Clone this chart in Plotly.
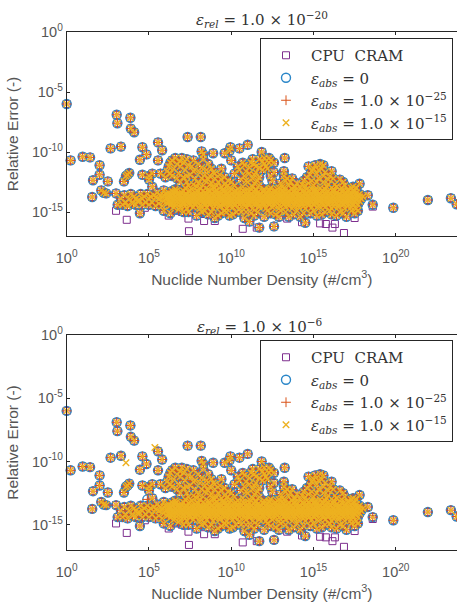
import plotly.graph_objects as go

# Values are log10(number density), log10(relative error).
OUTLIERS = [(0,-6.0),(.24,-10.7),(.97,-10.4),(1.42,-10.45),(2.0,-11.1),(2.0,-11.9),(1.6,-12.35),(2.5,-12.45),
(1.55,-13.75),(2.1,-13.2),(2.25,-13.4),(2.4,-13.45),(3.0,-13.45),(2.67,-9.7),(3.3,-9.55),(3.04,-6.9),(3.08,-7.6),
(3.87,-7.15),(3.9,-8.05),(4.1,-8.35),(3.48,-12.45),(3.6,-12.0),(3.7,-11.9),(3.8,-11.75),(4.6,-9.6),(4.85,-10.2),
(4.45,-10.65),(5.55,-9.2),(5.8,-9.85),(5.55,-10.7),(4.6,-11.9),(5.2,-11.8),(5.0,-12.3),(4.45,-15.1),(3.1,-14.4),
(7.35,-8.75),(8.15,-8.75),(8.9,-10.1),(8.2,-9.95),(8.3,-10.2),(9.6,-10.1),(9.95,-9.6),(10.5,-9.7),(11.0,-9.4),
(11.85,-10.0),(13.25,-10.5),(10.0,-10.7),(9.9,-9.9),(13.2,-11.6),(17.8,-12.65),(18.3,-13.6),(18.6,-14.4),
(19.85,-14.65),(21.95,-14.0),(23.35,-13.85),(23.7,-14.35)]

UPPER = [(6.3,-10.9),(6.6,-10.5),(6.9,-10.8),(7.3,-10.6),(7.7,-10.7),(6.1,-11.6),(6.5,-11.4),(6.9,-11.2),(7.2,-11.5),
(7.6,-11.2),(8.0,-11.0),(8.3,-10.6),(8.6,-11.0),(8.8,-11.4),(5.7,-11.8),(6.0,-12.1),(6.4,-12.0),(6.8,-11.8),
(7.1,-12.1),(7.5,-11.9),(7.8,-12.2),(8.1,-11.7),(8.4,-11.9),(8.7,-12.0),(9.0,-11.8),(9.3,-11.9),(9.6,-12.1),
(6.9,-12.5),(7.3,-12.5),(7.7,-12.7),(8.0,-12.6),(8.4,-12.4),(8.8,-12.6),(9.2,-12.5),(9.6,-12.7),(10.0,-12.5),
(7.2,-13.0),(7.6,-13.1),(8.1,-13.0),(8.6,-13.1),(9.0,-13.0),(9.5,-13.1),(9.9,-13.0),(10.4,-13.1),(10.2,-12.8),
(10.2,-11.8),(10.5,-11.5),(10.8,-11.1),(11.1,-11.3),(10.7,-10.9),(11.4,-11.0),(11.3,-10.6),(11.7,-10.6),(12.0,-10.5),
(12.3,-10.9),(12.6,-10.9),(12.3,-10.5),(12.0,-11.0),(11.7,-11.3),(11.5,-11.7),(11.9,-11.5),(12.2,-11.4),(11.1,-11.8),
(10.8,-12.0),(11.3,-12.2),(11.7,-12.1),(11.0,-12.5),(11.4,-12.6),(11.7,-12.8),(11.1,-13.0),(11.5,-13.1),(12.0,-13.1),
(12.4,-12.0),(12.5,-12.4),(12.6,-11.7),(12.4,-13.0),(12.8,-13.1),(13.2,-12.0),(13.3,-12.4),(13.0,-12.6),(13.5,-12.8),
(13.2,-13.0),(13.7,-13.1),(13.7,-12.2),(14.0,-12.6),(14.2,-13.0),(14.4,-12.4),(14.6,-12.1),(14.9,-11.6),(14.7,-11.2),
(15.1,-11.1),(15.4,-11.0),(15.5,-11.4),(15.2,-11.8),(14.9,-12.4),(15.3,-12.2),(15.7,-11.7),(16.1,-11.6),(16.0,-12.0),
(16.2,-12.2),(15.6,-12.5),(15.0,-12.8),(15.4,-13.0),(15.9,-12.7),(16.3,-12.7),(16.6,-12.3),(16.8,-12.5),(14.6,-13.1),
(16.7,-13.0),(17.1,-13.1),(17.4,-12.9),(16.2,-13.1),(6.6,-13.1),(5.9,-13.2),(5.2,-12.9),(5.0,-12.0),(9.4,-11.4),
(8.9,-12.9),(10.7,-12.9),(12.9,-13.0),(13.8,-12.9),(6.4,-10.7),(7.0,-10.5),(10.9,-12.4),(14.3,-12.7),(15.7,-13.1),
(6.2,-11.2),(6.7,-11.0),(7.1,-10.9),(7.4,-11.1),(7.8,-11.5),(8.2,-11.3),(8.5,-11.5),(8.9,-11.7),(6.3,-11.8),(6.7,-12.2),
(7.3,-12.0),(7.7,-11.6),(8.2,-12.2),(8.6,-12.3),(9.0,-12.2),(9.4,-12.3),(9.8,-12.4),(7.4,-12.8),(7.9,-12.9),(8.3,-12.8),
(8.7,-12.7),(9.1,-12.8),(9.4,-12.9),(9.8,-12.8),(10.4,-11.2),(10.9,-11.6),(11.2,-10.9),(11.5,-11.2),(11.9,-10.8),(12.1,-11.2),
(12.4,-10.7),(11.4,-11.9),(10.6,-12.3),(11.3,-12.9),(11.6,-12.4),(12.3,-13.1),(13.4,-12.2),(13.1,-12.9),(13.6,-12.5),(13.9,-12.9),
(14.5,-12.8),(14.8,-11.9),(15.0,-11.4),(15.3,-11.5),(15.6,-11.1),(14.7,-12.6),(15.2,-12.5),(15.6,-12.0),(15.9,-12.3),(16.4,-12.9),
(15.1,-13.1),(15.8,-12.9),(16.9,-12.8),(17.3,-13.0),(17.6,-13.0),(14.9,-13.1)]

CORE = [(3.5,-13.6),(3.8,-13.9),(4.1,-13.7),(4.4,-14.0),(4.7,-13.7),(5.0,-13.9),(5.3,-13.6),(5.6,-13.9),(5.9,-13.6),
(3.6,-14.2),(4.0,-14.3),(4.3,-14.1),(4.8,-14.2),(5.2,-14.2),(5.6,-14.3),(5.9,-14.1),(6.1,-14.3),
(3.3,-13.9),(3.4,-14.4),(3.7,-14.5),(3.9,-13.5),(4.2,-13.9),(4.5,-13.5),(4.6,-13.9),(4.9,-13.5),(5.1,-13.7),(5.4,-13.8),(5.5,-13.4),
(5.7,-13.6),(5.8,-13.8),(6.0,-13.5),(4.2,-14.4),(4.6,-14.4),(5.0,-14.4),(5.4,-14.5),(5.8,-14.5),(6.0,-13.9),
(6.2,-13.4),(6.4,-13.5),(6.6,-13.3),(6.8,-13.5),(7.0,-13.4),(7.2,-13.5),(7.4,-13.3),(7.6,-13.5),(7.8,-13.4),(8.0,-13.3),
(8.2,-13.5),(8.4,-13.4),(8.6,-13.3),(8.8,-13.5),(9.0,-13.3),(9.2,-13.4),(9.4,-13.5),(9.6,-13.3),(9.8,-13.4),(10.0,-13.5),
(10.2,-13.3),(10.4,-13.4),(10.6,-13.5),(10.8,-13.3),(11.0,-13.4),(11.2,-13.5),(11.4,-13.3),(11.6,-13.4),(11.8,-13.5),
(12.0,-13.3),(12.2,-13.4),(12.4,-13.5),(12.6,-13.3),(12.8,-13.4),(13.0,-13.5),(13.2,-13.3),(13.4,-13.4),(13.6,-13.5),
(13.8,-13.3),(14.0,-13.4),(14.2,-13.5),(14.4,-13.3),(14.6,-13.4),(14.8,-13.5),(15.0,-13.3),(15.2,-13.4),(15.4,-13.5),
(15.6,-13.3),(15.8,-13.4),(16.0,-13.5),(16.2,-13.3),(16.4,-13.4),(16.6,-13.5),(16.8,-13.3),(17.0,-13.4),(17.2,-13.5),
(17.4,-13.3),(17.6,-13.4),(17.8,-13.5),(18.0,-13.7),
(6.1,-13.8),(6.3,-13.7),(6.5,-13.9),(6.7,-13.8),(6.9,-13.7),(7.1,-13.9),(7.3,-13.8),(7.5,-13.7),(7.7,-13.9),(7.9,-13.8),
(8.1,-13.7),(8.3,-13.9),(8.5,-13.8),(8.7,-13.7),(8.9,-13.9),(9.1,-13.8),(9.3,-13.7),(9.5,-13.9),(9.7,-13.8),(9.9,-13.7),
(10.1,-13.9),(10.3,-13.8),(10.5,-13.7),(10.7,-13.9),(10.9,-13.8),(11.1,-13.7),(11.3,-13.9),(11.5,-13.8),(11.7,-13.7),
(11.9,-13.9),(12.1,-13.8),(12.3,-13.7),(12.5,-13.9),(12.7,-13.8),(12.9,-13.7),(13.1,-13.9),(13.3,-13.8),(13.5,-13.7),
(13.7,-13.9),(13.9,-13.8),(14.1,-13.7),(14.3,-13.9),(14.5,-13.8),(14.7,-13.7),(14.9,-13.9),(15.1,-13.8),(15.3,-13.7),
(15.5,-13.9),(15.7,-13.8),(15.9,-13.7),(16.1,-13.9),(16.3,-13.8),(16.5,-13.7),(16.7,-13.9),(16.9,-13.8),(17.1,-13.7),
(17.3,-13.9),(17.5,-13.8),(17.7,-13.7),(17.9,-13.9),
(6.2,-14.2),(6.4,-14.1),(6.6,-14.3),(6.8,-14.2),(7.0,-14.1),(7.2,-14.3),(7.4,-14.2),(7.6,-14.1),(7.8,-14.3),(8.0,-14.2),
(8.2,-14.1),(8.4,-14.3),(8.6,-14.2),(8.8,-14.1),(9.0,-14.3),(9.2,-14.2),(9.4,-14.1),(9.6,-14.3),(9.8,-14.2),(10.0,-14.1),
(10.2,-14.3),(10.4,-14.2),(10.6,-14.1),(10.8,-14.3),(11.0,-14.2),(11.2,-14.1),(11.4,-14.3),(11.6,-14.2),(11.8,-14.1),
(12.0,-14.3),(12.2,-14.2),(12.4,-14.1),(12.6,-14.3),(12.8,-14.2),(13.0,-14.1),(13.2,-14.3),(13.4,-14.2),(13.6,-14.1),
(13.8,-14.3),(14.0,-14.2),(14.2,-14.1),(14.4,-14.3),(14.6,-14.2),(14.8,-14.1),(15.0,-14.3),(15.2,-14.2),(15.4,-14.1),
(15.6,-14.3),(15.8,-14.2),(16.0,-14.1),(16.2,-14.3),(16.4,-14.2),(16.6,-14.1),(16.8,-14.3),(17.0,-14.2),(17.2,-14.1),
(17.4,-14.3),(17.6,-14.2),(17.8,-14.1),
(6.5,-14.6),(6.9,-14.6),(7.3,-14.7),(7.7,-14.6),(8.1,-14.7),(8.5,-14.6),(8.9,-14.7),(9.3,-14.6),(9.7,-14.7),(10.1,-14.6),
(10.5,-14.7),(10.9,-14.6),(11.3,-14.7),(11.7,-14.6),(12.1,-14.7),(12.5,-14.6),(12.9,-14.7),(13.3,-14.6),(13.7,-14.7),
(14.1,-14.6),(14.5,-14.7),(14.9,-14.6),(15.3,-14.7),(15.7,-14.6),(16.1,-14.7),(16.5,-14.6),(16.9,-14.7),(17.3,-14.6),(17.6,-14.7),
(6.3,-13.55),(6.5,-13.65),(6.7,-13.55),(6.9,-13.6),(7.1,-13.65),(7.3,-13.55),(7.5,-13.6),(7.7,-13.65),(7.9,-13.55),(8.1,-13.6),
(8.3,-13.65),(8.5,-13.55),(8.7,-13.6),(8.9,-13.65),(9.1,-13.55),(9.3,-13.6),(9.5,-13.65),(9.7,-13.55),(9.9,-13.6),(10.1,-13.65),
(10.3,-13.55),(10.5,-13.6),(10.7,-13.65),(10.9,-13.55),(11.1,-13.6),(11.3,-13.65),(11.5,-13.55),(11.7,-13.6),(11.9,-13.65),(12.1,-13.55),
(12.3,-13.6),(12.5,-13.65),(12.7,-13.55),(12.9,-13.6),(13.1,-13.65),(13.3,-13.55),(13.5,-13.6),(13.7,-13.65),(13.9,-13.55),(14.1,-13.6),
(14.3,-13.65),(14.5,-13.55),(14.7,-13.6),(14.9,-13.65),(15.1,-13.55),(15.3,-13.6),(15.5,-13.65),(15.7,-13.55),(15.9,-13.6),(16.1,-13.65),
(16.3,-13.55),(16.5,-13.6),(16.7,-13.65),(16.9,-13.55),(17.1,-13.6),(17.3,-13.65),(17.5,-13.55),(17.7,-13.6),
(6.2,-14.0),(6.4,-13.95),(6.6,-14.05),(6.8,-14.0),(7.0,-13.95),(7.2,-14.05),(7.4,-14.0),(7.6,-13.95),(7.8,-14.05),(8.0,-14.0),
(8.2,-13.95),(8.4,-14.05),(8.6,-14.0),(8.8,-13.95),(9.0,-14.05),(9.2,-14.0),(9.4,-13.95),(9.6,-14.05),(9.8,-14.0),(10.0,-13.95),
(10.2,-14.05),(10.4,-14.0),(10.6,-13.95),(10.8,-14.05),(11.0,-14.0),(11.2,-13.95),(11.4,-14.05),(11.6,-14.0),(11.8,-13.95),(12.0,-14.05),
(12.2,-14.0),(12.4,-13.95),(12.6,-14.05),(12.8,-14.0),(13.0,-13.95),(13.2,-14.05),(13.4,-14.0),(13.6,-13.95),(13.8,-14.05),(14.0,-14.0),
(14.2,-13.95),(14.4,-14.05),(14.6,-14.0),(14.8,-13.95),(15.0,-14.05),(15.2,-14.0),(15.4,-13.95),(15.6,-14.05),(15.8,-14.0),(16.0,-13.95),
(16.2,-14.05),(16.4,-14.0),(16.6,-13.95),(16.8,-14.05),(17.0,-14.0),(17.2,-13.95),(17.4,-14.05),(17.6,-14.0),
(6.3,-14.45),(6.6,-14.5),(6.9,-14.4),(7.2,-14.5),(7.5,-14.45),(7.8,-14.4),(8.1,-14.5),(8.4,-14.45),(8.7,-14.4),(9.0,-14.5),
(9.3,-14.45),(9.6,-14.4),(9.9,-14.5),(10.2,-14.45),(10.5,-14.4),(10.8,-14.5),(11.1,-14.45),(11.4,-14.4),(11.7,-14.5),(12.0,-14.45),
(12.3,-14.4),(12.6,-14.5),(12.9,-14.45),(13.2,-14.4),(13.5,-14.5),(13.8,-14.45),(14.1,-14.4),(14.4,-14.5),(14.7,-14.45),(15.0,-14.4),
(15.3,-14.5),(15.6,-14.45),(15.9,-14.4),(16.2,-14.5),(16.5,-14.45),(16.8,-14.4),(17.1,-14.5),(17.4,-14.45),(17.7,-14.4),
(6.4,-13.25),(6.7,-13.2),(7.1,-13.25),(7.5,-13.2),(7.9,-13.25),(8.3,-13.2),(8.7,-13.25),(9.1,-13.2),(9.5,-13.25),(9.9,-13.2),
(10.3,-13.25),(10.7,-13.2),(11.1,-13.25),(11.5,-13.2),(11.9,-13.25),(12.3,-13.2),(12.7,-13.25),(13.1,-13.2),(13.5,-13.25),(13.9,-13.2),
(14.3,-13.25),(14.7,-13.2),(15.1,-13.25),(15.5,-13.2),(15.9,-13.25),(16.3,-13.2),(16.7,-13.25),(17.1,-13.2),(17.5,-13.25),
(6.25,-13.75),(6.6,-13.7),(7.0,-13.8),(7.4,-13.7),(7.8,-13.75),(8.2,-13.7),(8.6,-13.8),(9.0,-13.7),(9.4,-13.8),(9.8,-13.75),
(10.2,-13.7),(10.6,-13.8),(11.0,-13.7),(11.4,-13.75),(11.8,-13.8),(12.2,-13.7),(12.6,-13.75),(13.0,-13.7),(13.4,-13.8),(13.8,-13.7),
(14.2,-13.75),(14.6,-13.7),(15.0,-13.8),(15.4,-13.75),(15.8,-13.8),(16.2,-13.7),(16.6,-13.75),(17.0,-13.8),(17.4,-13.7),(17.8,-13.75),
(6.35,-14.25),(6.7,-14.15),(7.1,-14.2),(7.5,-14.25),(7.9,-14.15),(8.3,-14.2),(8.7,-14.25),(9.1,-14.15),(9.5,-14.2),(9.9,-14.25),
(10.3,-14.15),(10.7,-14.2),(11.1,-14.25),(11.5,-14.15),(11.9,-14.2),(12.3,-14.25),(12.7,-14.15),(13.1,-14.2),(13.5,-14.25),(13.9,-14.15),
(14.3,-14.2),(14.7,-14.25),(15.1,-14.15),(15.5,-14.2),(15.9,-14.25),(16.3,-14.15),(16.7,-14.2),(17.1,-14.25),(17.5,-14.15)]

LOWER = [(5.9,-14.9),(6.3,-15.1),(6.8,-14.8),(7.4,-15.0),(7.9,-15.3),(8.2,-15.0),(8.6,-15.2),(9.0,-15.5),(9.4,-15.1),
(9.9,-15.3),(10.3,-15.0),(10.8,-15.5),(11.1,-15.8),(11.4,-15.3),(11.7,-16.3),(12.0,-15.4),(12.4,-15.1),(12.6,-16.2),
(12.9,-15.4),(13.3,-15.0),(13.8,-15.2),(14.2,-15.4),(14.5,-15.9),(14.8,-15.1),(15.2,-15.3),(15.7,-15.0),(16.1,-15.2),
(16.6,-15.0),(17.0,-15.4),(17.5,-15.1),(17.7,-14.9),(10.9,-15.0),(8.4,-14.9),(13.0,-14.9),(7.1,-15.0),(9.7,-15.0),
(8.8,-15.0),(9.2,-15.3),(9.6,-14.9),(10.1,-15.2),(10.6,-15.0),(11.2,-15.1),(11.6,-15.0),(12.2,-14.9),(12.7,-15.2),(13.5,-15.4),
(14.0,-14.9),(14.4,-15.1),(15.0,-14.9),(15.5,-15.2),(16.0,-14.9),(16.4,-15.3),(16.8,-15.1),(17.3,-14.9)]

SQUARE_ONLY = [(3.0,-14.9),(3.65,-15.65),(6.2,-15.3),(7.43,-16.6),(7.4,-15.55),(7.2,-15.05),(6.7,-14.7),(6.9,-14.8),(6.4,-14.75),
(8.35,-15.75),(9.0,-15.75),(10.7,-16.4),(11.55,-16.3),(13.4,-15.55),(14.3,-15.85),(15.4,-15.95),(15.75,-16.0),(16.15,-16.3),
(16.3,-16.0),(16.85,-16.75),(17.5,-15.5),(18.6,-14.55),(4.75,-14.65),(5.5,-14.35),(11.0,-15.2),(6.0,-14.6),(6.6,-14.9),(7.0,-15.0)]

# Second panel only
X_ONLY_LOWER_PANEL = [(5.36,-8.9),(3.6,-10.1)]
NO_X_LOWER_PANEL = [(4.9,-13.0)]

MAIN_POINTS = OUTLIERS + UPPER + CORE + LOWER

CPU_NAME = "CPU  CRAM"
NAMES = ["<i>ε<sub>abs</sub></i> = 0",
         "<i>ε<sub>abs</sub></i> = 1.0 × 10<sup>−25</sup>",
         "<i>ε<sub>abs</sub></i> = 1.0 × 10<sup>−15</sup>"]
TITLES = ["<i>ε<sub>rel</sub></i> = 1.0 × 10<sup>−20</sup>", "<i>ε<sub>rel</sub></i> = 1.0 × 10<sup>−6</sup>"]
X_TICKS = [1, 1e5, 1e10, 1e15, 1e20]
X_LABELS = ["10<sup>0</sup>", "10<sup>5</sup>", "10<sup>10</sup>", "10<sup>15</sup>", "10<sup>20</sup>"]
Y_TICKS = [1, 1e-5, 1e-10, 1e-15]
Y_LABELS = ["10<sup>0</sup>", "10<sup>-5</sup>", "10<sup>-10</sup>", "10<sup>-15</sup>"]

PURPLE, BLUE, RED, YEL = "#7E2F8E", "#2A86C8", "#D95319", "#EDB120"
INK = "#262626"
GRAY = "#555555"
W, H = 457, 604


def xs(p):
    return [10 ** a for a, _ in p]


def ys(p):
    return [10 ** b for _, b in p]


fig = go.Figure()
for i, (xa, ya, leg) in enumerate([("x", "y", "legend"), ("x2", "y2", "legend2")]):
    low = i == 1
    sq = MAIN_POINTS + SQUARE_ONLY
    circ = MAIN_POINTS + (NO_X_LOWER_PANEL if low else [])
    cross = MAIN_POINTS + (X_ONLY_LOWER_PANEL if low else [])
    common = dict(mode="markers", xaxis=xa, yaxis=ya, legend=leg, cliponaxis=False)
    fig.add_trace(go.Scatter(x=xs(sq), y=ys(sq), name=CPU_NAME, **common,
                             marker=dict(symbol="square-open", size=7, color=PURPLE, line=dict(width=1))))
    fig.add_trace(go.Scatter(x=xs(circ), y=ys(circ), name=NAMES[0], **common,
                             marker=dict(symbol="circle-open", size=9, color=BLUE, line=dict(width=1.4))))
    fig.add_trace(go.Scatter(x=xs(circ), y=ys(circ), name=NAMES[1], **common,
                             marker=dict(symbol="cross-thin-open", size=7, color=RED, line=dict(width=1, color=RED))))
    fig.add_trace(go.Scatter(x=xs(cross), y=ys(cross), name=NAMES[2], **common,
                             marker=dict(symbol="x-thin-open", size=6.5, color=YEL, line=dict(width=1.4, color=YEL))))

xax = dict(type="log", range=[0, 23.72], tickmode="array", tickvals=X_TICKS, ticktext=X_LABELS, automargin=False,
           ticks="inside", ticklen=3, tickcolor=INK, showline=True, linecolor=INK, linewidth=1, mirror="ticks",
           showgrid=False, zeroline=False, domain=[66.7 / W, 1], ticklabelstandoff=9,
           tickfont=dict(family="Liberation Sans", size=14.5, color=GRAY),
           title=dict(text="Nuclide Number Density (#/cm<sup>3</sup>)",
                      font=dict(family="Liberation Sans", size=15.5, color=GRAY), standoff=8))
yax = dict(type="log", tickmode="array", tickvals=Y_TICKS, ticktext=Y_LABELS, automargin=False,
           ticks="inside", ticklen=3, tickcolor=INK, showline=True, linecolor=INK, linewidth=1,
           showgrid=False, zeroline=False, range=[-17, 0],
           tickfont=dict(family="Liberation Sans", size=14.5, color=GRAY),
           title=dict(text="Relative Error (-)", font=dict(family="Liberation Sans", size=15.5, color=GRAY), standoff=9))
legend_style = dict(xanchor="left", yanchor="top", bgcolor="white", bordercolor=INK, borderwidth=1,
                    font=dict(family="DejaVu Serif", size=15, color="#333333"), itemsizing="trace",
                    itemwidth=40, tracegroupgap=0, xref="paper", yref="paper", traceorder="normal",
                    entrywidth=141, entrywidthmode="pixels")

fig.update_layout(
    width=W, height=H, autosize=False, margin=dict(l=0, r=0, t=0, b=0),
    paper_bgcolor="white", plot_bgcolor="white", showlegend=True,
    xaxis=dict(xax, anchor="y"),
    yaxis=dict(yax, anchor="x", domain=[1 - 236 / H, 1 - 32 / H]),
    xaxis2=dict(xax, anchor="y2"),
    yaxis2=dict(yax, anchor="x2", domain=[1 - 550 / H, 1 - 335 / H]),
    legend=dict(legend_style, x=260 / W, y=1 - 38 / H),
    legend2=dict(legend_style, x=260 / W, y=1 - 340 / H),
    annotations=[
        dict(text=TITLES[0], xref="paper", yref="paper", x=262 / W, y=1 - 20 / H, yanchor="middle", showarrow=False,
             font=dict(family="DejaVu Serif", size=15, color="#333333")),
        dict(text=TITLES[1], xref="paper", yref="paper", x=260 / W, y=1 - 326 / H, yanchor="middle", showarrow=False,
             font=dict(family="DejaVu Serif", size=15, color="#333333")),
    ],
)
fig.write_html("out.html", config=dict(displayModeBar=False), post_script="document.body.style.margin='0';")
